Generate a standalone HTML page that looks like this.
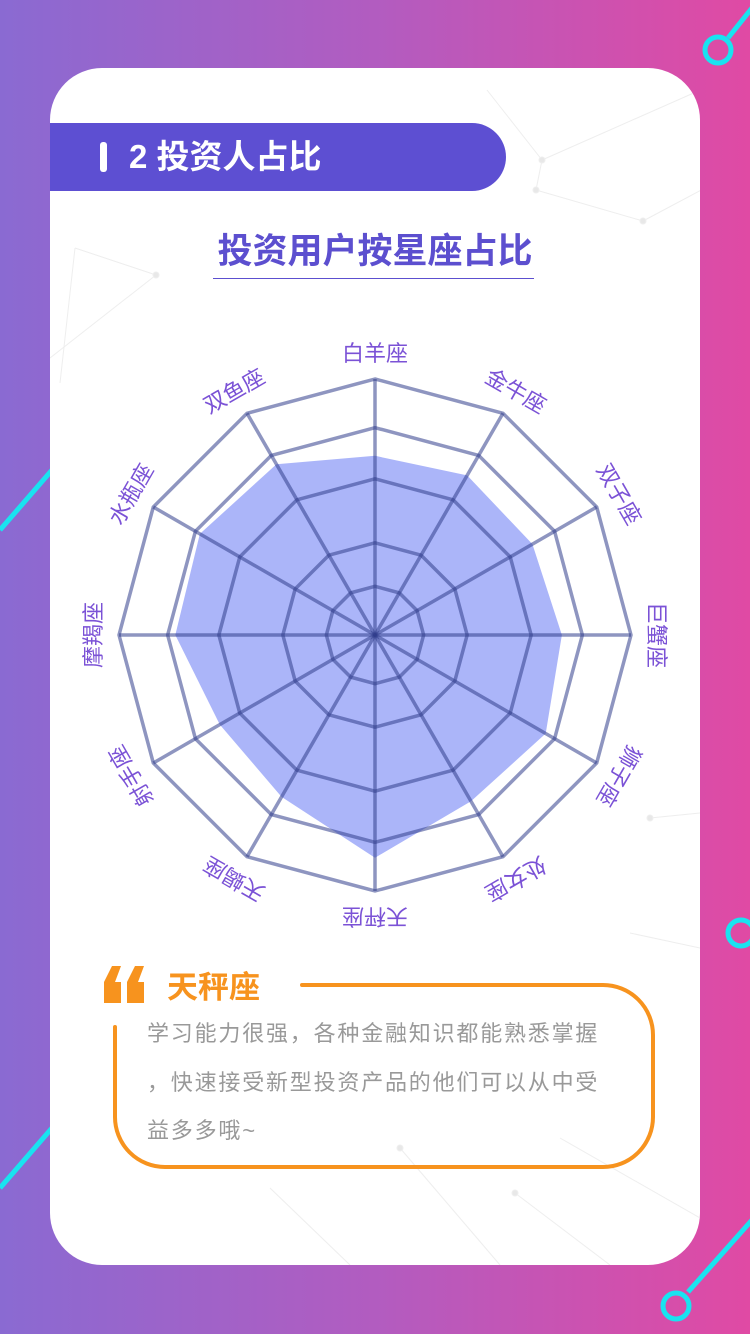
<!DOCTYPE html>
<html><head><meta charset="utf-8">
<style>
html,body{margin:0;padding:0}
body{width:750px;height:1334px;position:relative;overflow:hidden;background:linear-gradient(90deg,#8a6ad2 0%,#b25cc0 50%,#e04aa4 100%);font-family:"Liberation Sans","Noto Sans CJK SC",sans-serif}
.card{position:absolute;left:50px;top:68px;width:650px;height:1197px;background:#fff;border-radius:52px;overflow:hidden}
.hdr{position:absolute;left:50px;top:123px;width:456px;height:68px;background:#5d4fd2;border-radius:0 34px 34px 0;color:#fff;font-size:33px;font-weight:bold;line-height:68px}
.sub{position:absolute;left:0;width:750px;top:228px;text-align:center;color:#5c4fcf;font-size:35px;font-weight:bold;line-height:48px}
.ul{position:absolute;left:213px;top:278px;width:321px;height:1px;background:#5c4fcf}
.qt{position:absolute;left:167px;top:966px;color:#f7931e;font-size:31px;font-weight:bold;line-height:44px}
.txt{position:absolute;left:147px;top:1010px;width:520px;color:#999;font-size:22px;line-height:48.5px;letter-spacing:1.8px;white-space:nowrap}
</style></head><body>
<svg width="750" height="1334" style="position:absolute;left:0;top:0">
<g stroke="#19e3f0" stroke-width="5" fill="none">
<line x1="728" y1="38" x2="752" y2="8"/><circle cx="718" cy="50" r="13"/>
<circle cx="741" cy="933" r="13"/>
<line x1="688" y1="1292" x2="752" y2="1220"/><circle cx="676" cy="1306" r="13"/>
<line x1="0" y1="530" x2="52" y2="470"/>
<line x1="0" y1="1188" x2="52" y2="1128"/>
</g></svg>
<div class="card">
<svg width="650" height="1197" style="position:absolute;left:0;top:0">
<g stroke="#eee" stroke-width="1" fill="#e8e8e8">
<line x1="437" y1="22" x2="492" y2="92"/><line x1="492" y1="92" x2="486" y2="122"/><line x1="492" y1="92" x2="655" y2="20"/><line x1="486" y1="122" x2="593" y2="153"/><line x1="593" y1="153" x2="655" y2="120"/><line x1="25" y1="180" x2="106" y2="207"/><line x1="25" y1="180" x2="10" y2="315"/><line x1="106" y1="207" x2="0" y2="290"/>
<line x1="600" y1="750" x2="650" y2="745"/><line x1="580" y1="865" x2="650" y2="880"/><line x1="510" y1="1070" x2="650" y2="1150"/><line x1="465" y1="1125" x2="560" y2="1197"/><line x1="350" y1="1080" x2="450" y2="1197"/><line x1="220" y1="1120" x2="300" y2="1197"/>
<circle cx="492" cy="92" r="3"/><circle cx="486" cy="122" r="3"/><circle cx="593" cy="153" r="3"/><circle cx="106" cy="207" r="3"/><circle cx="600" cy="750" r="3"/><circle cx="465" cy="1125" r="3"/><circle cx="350" cy="1080" r="3"/>
</g></svg>
</div>
<div class="hdr"><span style="display:inline-block;width:7px;height:30px;background:#fff;border-radius:3px;margin-left:50px;vertical-align:-4px"></span><span style="margin-left:22px">2 投资人占比</span></div>
<div class="sub">投资用户按星座占比</div>
<div class="ul"></div>
<svg id="radar" width="750" height="1334" style="position:absolute;left:0;top:0"></svg>
<svg width="750" height="1334" style="position:absolute;left:0;top:0">
<path d="M302 985 H603 A50 50 0 0 1 653 1035 V1117 A50 50 0 0 1 603 1167 H165 A50 50 0 0 1 115 1117 V1027" fill="none" stroke="#f7931e" stroke-width="4" stroke-linecap="round"/>
<g fill="#f7931e"><path d="M104 1003 V982 L112 966 H121 L115 982 H121 V1003 Z"/><path d="M127 1003 V982 L135 966 H144 L138 982 H144 V1003 Z"/></g>
</svg>
<div class="qt">天秤座</div>
<div class="txt">学习能力很强，各种金融知识都能熟悉掌握<br>，快速接受新型投资产品的他们可以从中受<br>益多多哦~</div>
<script>
const categories=["白羊座","金牛座","双子座","巨蟹座","狮子座","处女座","天秤座","天蝎座","射手座","摩羯座","水瓶座","双鱼座"];
const values=[70,72,71,73,77,75,87,73,70,78,79,77];
const ringLevels=[19,36,61,81,100];
const maxValue=100;
const cx=375,cy=635,R=256;
const svg=document.getElementById('radar');
const NS='http://www.w3.org/2000/svg';
function ang(i){return -Math.PI/2+i*2*Math.PI/categories.length;}
function pt(i,v){const r=v/maxValue*R;return [cx+r*Math.cos(ang(i)),cy+r*Math.sin(ang(i))];}
const poly=document.createElementNS(NS,'polygon');
poly.setAttribute('points',values.map((v,i)=>pt(i,v).join(',')).join(' '));
poly.setAttribute('fill','rgba(110,128,245,0.58)');


svg.appendChild(poly);
ringLevels.forEach(l=>{
 const p=document.createElementNS(NS,'polygon');
 p.setAttribute('points',categories.map((c,i)=>pt(i,l).join(',')).join(' '));
 p.setAttribute('fill','none');p.setAttribute('stroke','rgba(50,62,140,0.55)');p.setAttribute('stroke-width','3.5');
 
 
 svg.appendChild(p);
});
categories.forEach((c,i)=>{
 const [x,y]=pt(i,maxValue);
 const ln=document.createElementNS(NS,'line');
 ln.setAttribute('x1',cx);ln.setAttribute('y1',cy);ln.setAttribute('x2',x);ln.setAttribute('y2',y);
 ln.setAttribute('stroke','rgba(50,62,140,0.55)');ln.setAttribute('stroke-width','3.5');
 
 
 svg.appendChild(ln);
 const [tx,ty]=pt(i,maxValue*1.1);
 const t=document.createElementNS(NS,'text');
 t.setAttribute('x',tx);t.setAttribute('y',ty);
 t.setAttribute('text-anchor','middle');t.setAttribute('dominant-baseline','central');
 t.setAttribute('font-size','22');t.setAttribute('fill','#7b52d6');
 t.setAttribute('font-family','"Liberation Sans","Noto Sans CJK SC",sans-serif');
 t.setAttribute('transform','rotate('+(i*360/categories.length)+' '+tx+' '+ty+')');
 t.textContent=c;
 
 
 svg.appendChild(t);
});
</script>
</body></html>
